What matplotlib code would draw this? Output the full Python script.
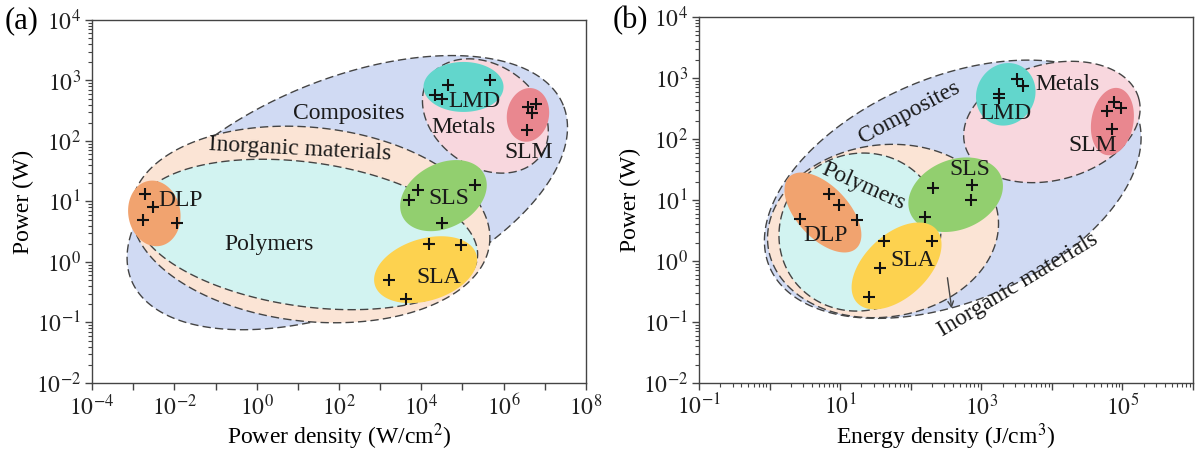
"""
Power vs power density / energy density of AM processes - two log-log panels
"""

import numpy as np
import matplotlib
matplotlib.use("Agg")
import matplotlib.pyplot as plt

plt.rcParams['font.family'] = ['Liberation Serif', 'DejaVu Serif']
plt.rcParams['mathtext.fontset'] = 'stix'

# ---- panel (a): power density (W/cm2) vs power (W) ----
a_dlp_x = [1.9e-3, 3.1e-3, 1.7e-3, 1.15e-2]
a_dlp_y = [13.5, 8.1, 4.9, 4.45]
a_sls_x = [5.15e3, 8.3e3, 2.04e5, 3.17e4]
a_sls_y = [10.4, 15.5, 18.8, 4.45]
a_sla_x = [1.57e4, 9.0e4, 1.66e3, 4.17e3]
a_sla_y = [1.99, 1.94, 0.508, 0.243]
a_lmd_x = [2.16e4, 3.1e4, 4.56e4, 4.79e5]
a_lmd_y = [566, 499, 832, 1033]
a_slm_x = [3.88e6, 5.96e6, 4.8e6, 3.64e6]
a_slm_y = [363, 412, 288, 152]

# ---- panel (b): energy density (J/cm3) vs power (W) ----
b_dlp_x = [6.9, 9.6, 2.7, 17.6]
b_dlp_y = [12.5, 8.3, 4.9, 4.7]
b_sls_x = [207, 161, 731, 704]
b_sls_y = [15.6, 5.3, 17.7, 10.0]
b_sla_x = [42, 201, 37, 25.9]
b_sla_y = [2.1, 2.1, 0.757, 0.26]
b_lmd_x = [1.76e3, 1.76e3, 3.16e3, 3.9e3]
b_lmd_y = [556, 478, 977, 741]
b_slm_x = [7.5e4, 6.1e4, 9.5e4, 7.2e4]
b_slm_y = [411, 289, 327, 145]

# colours
C_COMP = '#d0daf3'
C_INORG = '#fbe4d5'
C_POLY = '#d2f3f1'
C_METAL = '#f8d7de'
C_LMD = '#62d6cc'
C_SLM = '#e9878f'
C_DLP = '#f1a36f'
C_SLS = '#92cf6f'
C_SLA = '#fdd24f'
C_LINE = '#444444'

# regions: (center x, center y, semi-axis a px, semi-axis b px, angle deg, colour, dashed)
regions_a = [
    (159, 14.0, 233, 114, 22, C_COMP, True),
    (20.4, 4.17, 180, 97, -6, C_INORG, True),
    (16.7, 2.85, 172, 72, -8, C_POLY, True),
    (3.6e5, 259, 68, 51, -35, C_METAL, True),
    (1.06e5, 782, 40, 25, 0, C_LMD, False),
    (3.9e6, 270, 27, 21, 80, C_SLM, False),
    (3.26e-3, 6.35, 33, 26, 100, C_DLP, False),
    (3.45e4, 12.5, 46, 32, 28, C_SLS, False),
    (1.27e4, 0.746, 53, 31, 17, C_SLA, False),
]
regions_b = [
    (394, 15.0, 199, 112, 23, C_COMP, True),
    (1.0e4, 190, 90, 58, 15, C_METAL, True),
    (40.5, 3.1, 116, 86, 8, C_INORG, True),
    (19.1, 2.98, 82, 78, 30, C_POLY, True),
    (2.22e3, 540, 32, 29, 60, C_LMD, False),
    (7.2e4, 193, 34, 21, 80, C_SLM, False),
    (5.7, 6.24, 49, 26, -47, C_DLP, False),
    (433, 12.2, 49, 35, 22, C_SLS, False),
    (63, 0.83, 54, 31.5, 43, C_SLA, False),
]

# text labels: (text, x, y, rotation)
labels_a = [
    ('Composites', 175, 281, 0),
    ('Inorganic materials', 11, 73.8, -3),
    ('Polymers', 2.0, 1.94, 0),
    ('DLP', 1.45e-2, 10.2, 0),
    ('LMD', 2.0e5, 441, 0),
    ('Metals', 1.07e5, 168, 0),
    ('SLM', 4.07e6, 65, 0),
    ('SLS', 4.57e4, 11, 0),
    ('SLA', 2.7e4, 0.545, 0),
]
labels_b = [
    ('Composites', 94.6, 271, 28),
    ('Metals', 1.69e4, 789, 0),
    ('LMD', 2.17e3, 257, 0),
    ('SLM', 3.83e4, 77, 0),
    ('SLS', 686, 32.2, 0),
    ('Polymers', 21.1, 16.4, -24),
    ('DLP', 6.2, 2.59, 0),
    ('SLA', 108, 1.0, 0),
    ('Inorganic materials', 3.3e3, 0.405, 31),
]


def blob(ax, cx, cy, a, b, ang, color, dashed):
    """ellipse defined in screen pixels around a data centre on log-log axes"""
    fig = ax.figure
    pos = ax.get_position()
    w_px = pos.width * fig.get_figwidth() * fig.dpi
    h_px = pos.height * fig.get_figheight() * fig.dpi
    x0, x1 = ax.get_xlim()
    y0, y1 = ax.get_ylim()
    kx = w_px / np.log10(x1 / x0)
    ky = h_px / np.log10(y1 / y0)
    t = np.linspace(0, 2 * np.pi, 300)
    r = np.deg2rad(ang)
    dx = a * np.cos(t) * np.cos(r) - b * np.sin(t) * np.sin(r)
    dy = a * np.cos(t) * np.sin(r) + b * np.sin(t) * np.cos(r)
    xs = cx * 10 ** (dx / kx)
    ys = cy * 10 ** (dy / ky)
    if dashed:
        ax.fill(xs, ys, facecolor=color, edgecolor=C_LINE, lw=1.0,
                linestyle=(0, (6, 3)), zorder=1)
    else:
        ax.fill(xs, ys, facecolor=color, edgecolor='none', zorder=2)


def style_axes(ax, xlim, xlabel, xlab_exp):
    ax.set_xscale('log')
    ax.set_yscale('log')
    ax.set_xlim(*xlim)
    ax.set_ylim(1e-2, 1e4)
    lo, hi = int(np.log10(xlim[0])), int(np.log10(xlim[1]))
    xt = [10.0 ** k for k in range(lo, hi + 1)]
    ax.set_xticks(xt)
    ax.set_xticklabels(['$10^{%d}$' % k if k in xlab_exp else ''
                        for k in range(lo, hi + 1)])
    yt = [10.0 ** k for k in range(-2, 5)]
    ax.set_yticks(yt)
    ax.set_yticklabels(['$10^{%d}$' % k for k in range(-2, 5)])
    ax.tick_params(which='major', direction='out', length=5, width=1,
                   labelsize=17, colors=C_LINE, labelcolor='#222222', pad=3)
    ax.tick_params(which='minor', direction='out', length=3, width=0.8,
                   colors=C_LINE)
    for s in ax.spines.values():
        s.set_color(C_LINE)
        s.set_linewidth(1.0)
    ax.set_xlabel(xlabel, fontsize=17, labelpad=1)
    ax.set_ylabel('Power (W)', fontsize=17, labelpad=1)


def draw_panel(ax, regions, labels, points):
    for cx, cy, a, b, ang, col, dashed in regions:
        blob(ax, cx, cy, a, b, ang, col, dashed)
    for xs, ys in points:
        ax.plot(xs, ys, '+', color='#111111', ms=8, mew=1.5, zorder=4)
    for txt, x, y, rot in labels:
        ax.text(x, y, txt, fontsize=17, ha='center', va='center',
                rotation=rot, color='#1a1a1a', zorder=5)


fig = plt.figure(figsize=(12, 4.54), dpi=100)
ax1 = fig.add_axes([0.0767, 0.1564, 0.4116, 0.7996])
ax2 = fig.add_axes([0.5825, 0.1564, 0.4117, 0.8062])

style_axes(ax1, (1e-4, 1e8), 'Power density (W/cm$^2$)', [-4, -2, 0, 2, 4, 6, 8])
style_axes(ax2, (1e-1, 1e6), 'Energy density (J/cm$^3$)', [-1, 1, 3, 5])

draw_panel(ax1, regions_a, labels_a,
           [(a_dlp_x, a_dlp_y), (a_sls_x, a_sls_y), (a_sla_x, a_sla_y),
            (a_lmd_x, a_lmd_y), (a_slm_x, a_slm_y)])
draw_panel(ax2, regions_b, labels_b,
           [(b_dlp_x, b_dlp_y), (b_sls_x, b_sls_y), (b_sla_x, b_sla_y),
            (b_lmd_x, b_lmd_y), (b_slm_x, b_slm_y)])

# arrow pointing at the "Inorganic materials" label in (b)
ax2.annotate('', xy=(385, 0.151), xytext=(327, 0.589),
             arrowprops=dict(arrowstyle='->', color=C_LINE, lw=1.0), zorder=5)

fig.text(0.018, 0.955, '(a)', fontsize=22, ha='center', va='center')
fig.text(0.525, 0.955, '(b)', fontsize=22, ha='center', va='center')

fig.savefig('out.png', dpi=100)
